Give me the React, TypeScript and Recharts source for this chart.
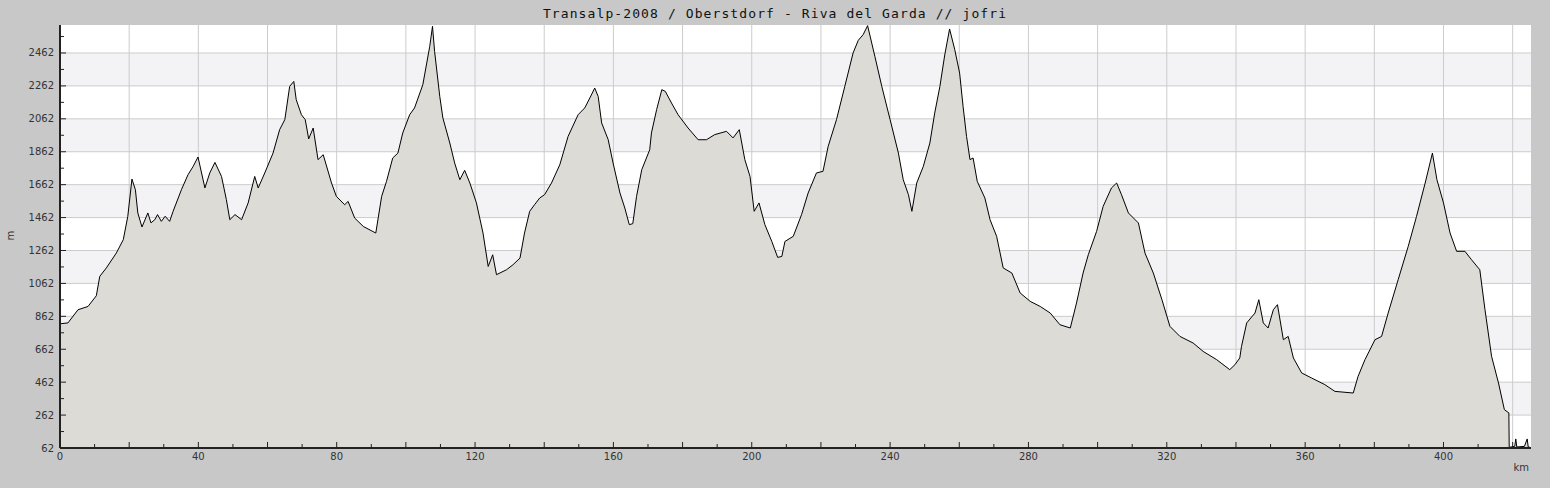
import { AreaChart, Area, XAxis, YAxis, CartesianGrid } from "recharts";

const km = [
  0, 0.2, 2.3, 5.2, 8.1, 10.5, 11.5, 13.4, 16.3, 18.3, 19.6, 20.8, 21.8, 22.5, 23.7, 25.4, 26.3, 27.4, 28.2, 29.3, 30.4, 31.7,
  32.7, 35.1, 37.0, 38.5, 39.9, 41.9, 43.3, 44.8, 46.7, 48.1, 49.1, 50.6, 52.5, 54.4, 56.3, 57.3, 59.2, 61.6, 63.5,
  65.0, 66.4, 67.6, 68.3, 69.8, 70.9, 71.9, 73.2, 74.6, 76.1, 78.5, 79.9, 82.3, 83.3, 85.2, 87.7, 91.3, 93.0,
  94.4, 96.2, 97.7, 99.1, 101.1, 102.5, 104.9, 106.9, 107.7, 108.3, 109.8, 110.7, 112.7, 114.1, 115.6, 117.0,
  118.5, 120.4, 122.3, 123.8, 125.1, 126.2, 129.1, 131.0, 133.0, 134.3, 135.8, 137.2, 138.7, 140.1, 142.1,
  144.5, 146.9, 149.8, 151.7, 153.2, 154.6, 155.6, 156.6, 158.5, 159.9, 161.9, 163.3, 164.6, 165.6, 166.7,
  168.2, 170.5, 171.0, 172.5, 174.0, 175.0, 176.8, 178.7, 181.6, 184.5, 186.9, 189.3, 192.7, 194.6, 196.4,
  198.0, 199.5, 200.7, 202.1, 203.8, 205.8, 207.5, 208.7, 209.6, 212.0, 214.4, 216.3, 218.7, 220.6, 222.1,
  224.5, 226.9, 229.3, 230.8, 232.2, 233.5, 235.6, 237.6, 240.0, 242.4, 243.8, 245.3, 246.3, 247.7, 249.6,
  251.5, 252.9, 254.4, 255.8, 257.2, 258.7, 260.1, 261.1, 262.1, 263.1, 264.0, 265.2, 267.4, 268.9, 270.8,
  272.7, 275.2, 277.6, 280.5, 283.4, 286.3, 289.1, 292.1, 293.9, 295.8, 297.3, 299.7, 301.6, 304.0, 305.5,
  306.9, 308.9, 311.8, 313.7, 316.1, 318.6, 320.9, 323.8, 327.6, 330.5, 334.4, 338.2, 339.7, 341.1, 341.6,
  343.1, 345.5, 346.6, 347.9, 349.3, 350.8, 352.0, 353.7, 355.1, 356.6, 359.0, 361.9, 365.7, 368.6, 373.9,
  375.3, 377.3, 380.2, 382.1, 384.0, 386.9, 389.8, 392.2, 394.7, 396.8, 398.1, 400.0, 401.9, 403.8, 406.2,
  408.1, 410.5, 412.0, 413.9, 415.9, 417.6, 418.9, 419.0, 420.6, 420.9, 421.2, 423.4, 424.2, 424.5, 424.9,
];

const elevation = [
  810, 817, 822, 902, 922, 987, 1105, 1156, 1247, 1328, 1469, 1696, 1631, 1490, 1405, 1490, 1430, 1449, 1480, 1439, 1470, 1439,
  1500, 1631, 1722, 1773, 1830, 1642, 1733, 1797, 1712, 1571, 1449, 1480, 1449, 1551, 1712, 1642, 1733, 1854, 1996,
  2057, 2259, 2289, 2178, 2087, 2057, 1940, 2006, 1814, 1844, 1672, 1591, 1540, 1560, 1459, 1408, 1368, 1591,
  1682, 1824, 1854, 1976, 2087, 2128, 2269, 2502, 2624, 2472, 2198, 2067, 1915, 1794, 1692, 1749,
  1672, 1551, 1368, 1165, 1236, 1115, 1145, 1176, 1216, 1368, 1500, 1540, 1581, 1601, 1672,
  1783, 1955, 2087, 2128, 2189, 2249, 2198, 2037, 1935, 1794, 1611, 1520, 1419, 1425, 1591,
  1753, 1874, 1976, 2118, 2239, 2229, 2158, 2087, 2006, 1935, 1935, 1966, 1986, 1946, 1996,
  1814, 1712, 1500, 1551, 1419, 1317, 1220, 1226, 1317, 1348, 1480, 1611, 1733, 1743, 1895,
  2057, 2259, 2462, 2539, 2573, 2628, 2441, 2259, 2057, 1854, 1692, 1601, 1500, 1672, 1773,
  1915, 2097, 2259, 2450, 2608, 2482, 2340, 2138, 1955, 1814, 1824, 1682, 1581, 1449, 1348,
  1156, 1125, 1004, 953, 922, 882, 811, 791, 943, 1125, 1236, 1378, 1530, 1642, 1672,
  1601, 1490, 1429, 1246, 1125, 963, 801, 740, 700, 649, 599, 538, 568, 609, 679,
  822, 882, 963, 822, 791, 902, 933, 720, 740, 609, 518, 487, 447, 406, 396,
  497, 599, 720, 740, 882, 1085, 1287, 1469, 1672, 1854, 1692, 1551, 1368, 1257, 1257,
  1206, 1145, 902, 619, 457, 295, 275, 66, 72, 117, 68, 72, 117, 68, 68,
];

const xTicks = [0, 10, 20, 30, 40, 50, 60, 70, 80, 90, 100, 110, 120, 130, 140, 150, 160, 170, 180, 190, 200, 210, 220, 230, 240, 250, 260, 270, 280, 290, 300, 310, 320, 330, 340, 350, 360, 370, 380, 390, 400, 410, 420];
const xGrid = [20, 40, 60, 80, 100, 120, 140, 160, 180, 200, 220, 240, 260, 280, 300, 320, 340, 360, 380, 400, 420];
const yTicks = [62, 162, 262, 362, 462, 562, 662, 762, 862, 962, 1062, 1162, 1262, 1362, 1462, 1562, 1662, 1762, 1862, 1962, 2062, 2162, 2262, 2362, 2462, 2562];
const yGrid = [62, 262, 462, 662, 862, 1062, 1262, 1462, 1662, 1862, 2062, 2262, 2462];

const data = km.map((k, i) => ({ km: k, m: elevation[i] }));

const font = "'DejaVu Sans', sans-serif";

function XTick(props: any) {
  const { x, y, payload } = props;
  const v = payload.value;
  const major = v % 20 === 0;
  return (
    <g>
      {v !== 0 && <line x1={x} x2={x} y1={y} y2={y - (major ? 6 : 4)} stroke="#222" strokeWidth={1} />}
      {v % 40 === 0 && (
        <text x={x} y={y + 12} textAnchor="middle" fontSize={10} fontFamily={font} fill="#333">
          {v}
        </text>
      )}
    </g>
  );
}

function YTick(props: any) {
  const { x, y, payload } = props;
  const v = payload.value;
  const major = (v - 62) % 200 === 0;
  return (
    <g>
      <line x1={x} x2={x + (major ? 6 : 4)} y1={y} y2={y} stroke="#222" strokeWidth={1} />
      {major && (
        <text x={x - 6} y={y + 3.5} textAnchor="end" fontSize={10} fontFamily={font} fill="#333">
          {v}
        </text>
      )}
    </g>
  );
}

export default function App() {
  return (
    <div style={{ position: "relative", width: 1550, height: 488, background: "#c8c8c8" }}>
      <style>{"body{margin:0}"}</style>
      <AreaChart width={1550} height={488} data={data} margin={{ top: 25, right: 19, left: 0, bottom: 0 }}>
        <CartesianGrid
          stroke="#cccccc"
          fill="#ffffff"
          horizontalValues={yGrid}
          verticalValues={xGrid}
          horizontalFill={["none", "#f3f2f5"]}
        />
        <XAxis
          type="number"
          dataKey="km"
          domain={[0, 425.3]}
          ticks={xTicks}
          interval={0}
          allowDataOverflow
          height={40}
          tickSize={0}
          tickMargin={0}
          tick={<XTick />}
          axisLine={{ stroke: "#222", strokeWidth: 2 }}
        />
        <YAxis
          type="number"
          domain={[62, 2632]}
          ticks={yTicks}
          interval={0}
          allowDataOverflow
          width={60}
          tickSize={0}
          tickMargin={0}
          tick={<YTick />}
          axisLine={{ stroke: "#222", strokeWidth: 2 }}
        />
        <Area
          type="linear"
          dataKey="m"
          stroke="#000"
          strokeWidth={1}
          fill="#dcdbd6"
          fillOpacity={1}
          dot={false}
          activeDot={false}
          isAnimationActive={false}
        />
      </AreaChart>
      <svg width={1550} height={488} style={{ position: "absolute", left: 0, top: 0, pointerEvents: "none" }}>
        <text x={775} y={18} textAnchor="middle" fontSize={13} letterSpacing={1.1} fontFamily="'DejaVu Sans Mono', monospace" fill="#111">
          Transalp-2008 / Oberstdorf - Riva del Garda // jofri
        </text>
        <text x={14} y={235.5} textAnchor="middle" fontSize={10} fontFamily={font} fill="#333" transform="rotate(-90, 14, 235.5)">
          m
        </text>
        <text x={1529} y={471} textAnchor="end" fontSize={10} fontFamily={font} fill="#333">
          km
        </text>
      </svg>
    </div>
  );
}
